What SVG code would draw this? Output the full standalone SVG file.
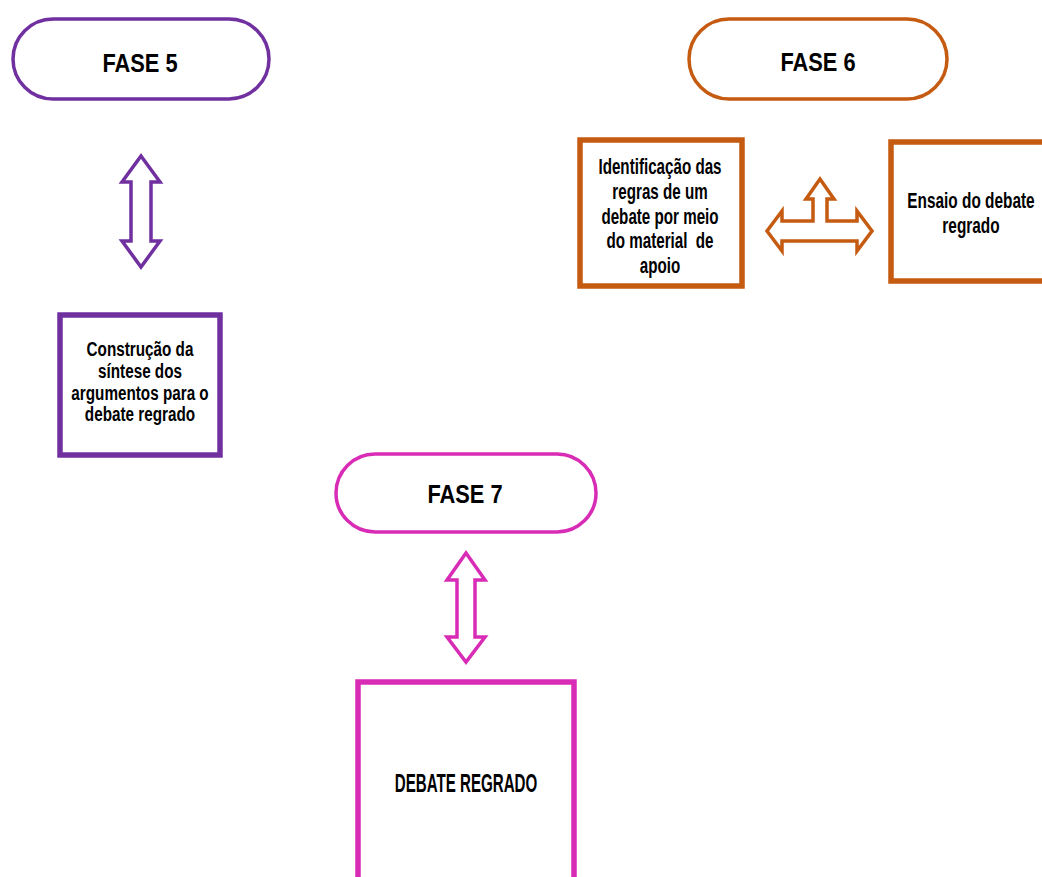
<svg xmlns="http://www.w3.org/2000/svg" width="1042" height="877" viewBox="0 0 1042 877">
<style>
text{font-family:"Liberation Sans",Arial,sans-serif;font-weight:bold;fill:#000;text-anchor:middle}
.t{font-size:26px}
.s{font-size:22px}
.s2{font-size:20.5px}
.d{font-size:25px}
.p5{stroke:#7030A0}
.p6{stroke:#C55A11}
.p7{stroke:#D92CB6}
.pill{fill:#fff;stroke-width:3.5}
.box{fill:#fff;stroke-width:5.5}
.arr{fill:#fff;stroke-width:3.5;stroke-linejoin:miter}
</style>
<rect width="1042" height="877" fill="#fff"/>
<g id="fase5">
<rect class="pill p5" x="13" y="19" width="256" height="80" rx="40"/>
<text class="t" transform="translate(140 0) scale(0.84 1)" x="0" y="72">FASE 5</text>
</g>
<g id="box5">
<rect class="box p5" x="60" y="315" width="160" height="140"/>
<text class="s2" transform="translate(140 0) scale(0.745 1)" x="0"><tspan x="0" y="356.5">Construção da</tspan><tspan x="0" y="378">síntese dos</tspan><tspan x="0" y="400">argumentos para o</tspan><tspan x="0" y="421.5">debate regrado</tspan></text>
</g>
<g id="fase6">
<rect class="pill p6" x="689" y="19" width="258" height="80" rx="40"/>
<text class="t" transform="translate(818 0) scale(0.84 1)" x="0" y="71">FASE 6</text>
</g>
<g id="box6a">
<rect class="box p6" x="580" y="140" width="162" height="146"/>
<text class="s" transform="translate(660 0) scale(0.69 1)" x="0" xml:space="preserve"><tspan x="0" y="174">Identificação das</tspan><tspan x="0" y="199">regras de um</tspan><tspan x="0" y="224">debate por meio</tspan><tspan x="0" y="248">do material  de</tspan><tspan x="0" y="273">apoio</tspan></text>
</g>
<g id="box6b">
<rect class="box p6" x="891" y="142" width="160" height="139"/>
<text class="s" transform="translate(971 0) scale(0.7 1)" x="0"><tspan x="0" y="208">Ensaio do debate</tspan><tspan x="0" y="233">regrado</tspan></text>
</g>
<g id="fase7">
<rect class="pill p7" x="336" y="454" width="260" height="78" rx="39"/>
<text class="t" transform="translate(465 0) scale(0.84 1)" x="0" y="503">FASE 7</text>
</g>
<g id="box7">
<rect class="box p7" x="358" y="682" width="216" height="205"/>
<text class="d" transform="translate(466 0) scale(0.605 1)" x="0" y="792">DEBATE REGRADO</text>
</g>
<g id="connectors">
<path class="arr p5" d="M141,156 L160,182 L151,182 L151,241 L160,241 L141,267 L122,241 L131,241 L131,182 L122,182 Z"/>
<path class="arr p6" d="M767,231 L782,211 L782,221 L813,221 L813,199 L806,199 L820,179 L834,199 L827,199 L827,221 L857,221 L857,211 L872,231 L857,251 L857,241 L782,241 L782,251 Z"/>
<path class="arr p7" d="M466,553 L485,580 L475,580 L475,637 L485,637 L466,662 L447,637 L457,637 L457,580 L447,580 Z"/>
</g>
</svg>
